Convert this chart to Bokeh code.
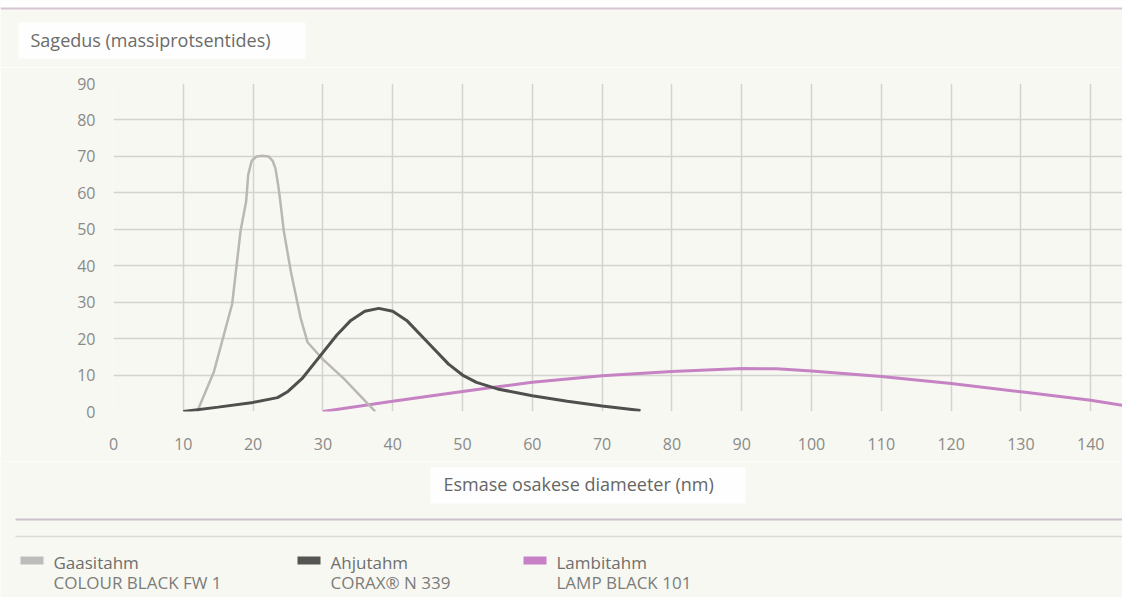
from bokeh.plotting import figure
from bokeh.layouts import column
from bokeh.models import Range1d, FixedTicker
from bokeh.core.properties import value
from bokeh.embed import file_html
from bokeh.resources import INLINE

# ---------------- data ----------------
gaas_x = [12, 14.4, 17, 18.2, 19, 19.3, 19.8, 20.5, 21.3, 22.2, 22.8, 23.2, 23.6, 23.9,
          24.4, 25.4, 26.8, 27.8, 30, 33, 37.5]
gaas_y = [0, 11, 29.5, 49.5, 57.6, 65, 68.8, 70, 70.2, 70, 68.8, 66.7, 62, 57.6,
          49.5, 38.5, 25.7, 19, 14.3, 9, 0]

ahju_x = [10, 15, 20, 23.5, 25, 27, 29.5, 32, 34, 36, 38, 40, 42, 45, 48, 50, 52, 55, 60, 65, 70, 75.5]
ahju_y = [0, 1.2, 2.5, 3.8, 5.5, 9, 15, 21, 25, 27.5, 28.3, 27.5, 25, 19, 13, 10, 8, 6.2, 4.3, 2.8, 1.5, 0.3]

lamb_x = [30, 40, 50, 55, 60, 70, 80, 90, 95, 100, 110, 120, 130, 140, 146.8]
lamb_y = [0, 2.8, 5.5, 6.8, 8, 9.8, 11, 11.8, 11.7, 11.1, 9.6, 7.7, 5.4, 3.1, 1]

x_ticks = list(range(0, 150, 10))
y_ticks = list(range(0, 100, 10))

series_names = ["Gaasitahm", "Ahjutahm", "Lambitahm"]
series_codes = ["COLOUR BLACK FW 1", "CORAX\u00ae N 339", "LAMP BLACK 101"]
series_colors = ["#bbb7b3", "#4f4f4d", "#c583c4"]
legend_swatch = ["#bdbdbb", "#555553", "#c77fc6"]

title_text = "Sagedus (massiprotsentides)"
xlabel_text = "Esmase osakese diameeter (nm)"

FONT = "Open Sans"
BG = "#f8f8f3"
W = 1122


def strip(h):
    f = figure(width=W, height=h, output_backend="svg", toolbar_location=None,
               x_range=Range1d(0, W), y_range=Range1d(0, h),
               x_axis_type=None, y_axis_type=None, min_border=0,
               background_fill_color=BG, border_fill_color=BG, outline_line_color=None)
    f.grid.visible = False
    f.frame_align = False
    return f


# ---------------- top strip (title) ----------------
TOP_H = 67
top = strip(TOP_H)
top.rect(x=[W / 2], y=[TOP_H - 4], width=[W], height=[8], fill_color="white", line_color=None)
top.segment(x0=[0], y0=[TOP_H - 8], x1=[W], y1=[TOP_H - 8], line_color="#d6c4d3", line_width=2)
top.rect(x=[161.5], y=[TOP_H - 40], width=[287], height=[36], fill_color="white",
         fill_alpha=0.85, line_color=None)
top.text(x=[30], y=[TOP_H - 39], text=[title_text], text_font=value(FONT), text_font_size="18px",
         text_color="#6b6b69", text_baseline="middle")

# ---------------- main chart ----------------
p = figure(width=W, height=394, output_backend="svg", toolbar_location=None,
           x_range=Range1d(0, 144.55), y_range=Range1d(0, 90),
           min_border_left=113, min_border_right=0, min_border_top=16, min_border_bottom=50,
           background_fill_color=BG, border_fill_color=BG, outline_line_color=None)
p.frame_align = False

for ax in (p.xaxis[0], p.yaxis[0]):
    ax.axis_line_color = None
    ax.major_tick_line_color = None
    ax.minor_tick_line_color = None
    ax.major_label_text_color = "#8a8a88"
    ax.major_label_text_font = FONT
    ax.major_label_text_font_size = "16px"
p.xaxis.ticker = FixedTicker(ticks=x_ticks)
p.yaxis.ticker = FixedTicker(ticks=y_ticks)
p.xaxis.major_label_standoff = 20
p.yaxis.major_label_standoff = 12

p.xgrid.ticker = FixedTicker(ticks=x_ticks)
p.ygrid.ticker = FixedTicker(ticks=y_ticks)
p.grid.grid_line_color = "#d3d3cf"
p.grid.grid_line_width = 1.5

p.line(lamb_x, lamb_y, line_color=series_colors[2], line_width=3)
p.line(gaas_x, gaas_y, line_color=series_colors[0], line_width=2.5)
p.line(ahju_x, ahju_y, line_color=series_colors[1], line_width=3)

# ---------------- bottom strip (x label, rules, legend) ----------------
BOT_H = 136
bot = strip(BOT_H)
bot.rect(x=[587.5], y=[112], width=[315], height=[36], fill_color="white",
         fill_alpha=0.85, line_color=None)
bot.text(x=[443], y=[114], text=[xlabel_text], text_font=value(FONT), text_font_size="18px",
         text_color="#666664", text_baseline="middle")

bot.segment(x0=[15, 15], y0=[78, 61], x1=[W, W], y1=[78, 61],
            line_color=["#cdbfcb", "#dadad6"], line_width=[2, 1.5])

sq_left = [20, 297, 523]
bot.rect(x=[x + 11.5 for x in sq_left], y=[37] * 3, width=23, height=8,
         fill_color=legend_swatch, line_color=None)
bot.text(x=[x + 33 for x in sq_left], y=[35] * 3, text=series_names,
         text_font=value(FONT), text_font_size="17px", text_color="#6e6e6c",
         text_baseline="middle")
bot.text(x=[x + 33 for x in sq_left], y=[15] * 3, text=series_codes,
         text_font=value(FONT), text_font_size="17px", text_color="#7c7c7a",
         text_baseline="middle")

layout = column(top, p, bot, spacing=0)
open("out.html", "w").write(file_html(layout, INLINE))
